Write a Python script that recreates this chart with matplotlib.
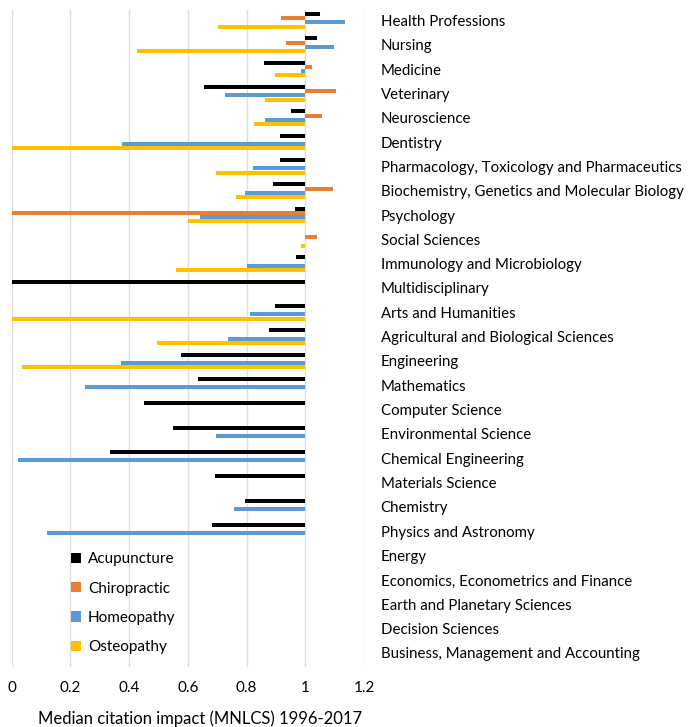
import matplotlib
matplotlib.use("Agg")
import matplotlib.pyplot as plt
import numpy as np

plt.rcParams['font.family'] = ['Lato', 'DejaVu Sans']

categories = [
    "Health Professions", "Nursing", "Medicine", "Veterinary", "Neuroscience",
    "Dentistry", "Pharmacology, Toxicology and Pharmaceutics",
    "Biochemistry, Genetics and Molecular Biology", "Psychology", "Social Sciences",
    "Immunology and Microbiology", "Multidisciplinary", "Arts and Humanities",
    "Agricultural and Biological Sciences", "Engineering", "Mathematics",
    "Computer Science", "Environmental Science", "Chemical Engineering",
    "Materials Science", "Chemistry", "Physics and Astronomy", "Energy",
    "Economics, Econometrics and Finance", "Earth and Planetary Sciences",
    "Decision Sciences", "Business, Management and Accounting",
]
nan = np.nan
acupuncture = [1.05, 1.04, 0.86, 0.655, 0.95, 0.915, 0.915, 0.89, 0.965, nan,
               0.97, 0.0, 0.897, 0.876, 0.577, 0.633, 0.449, 0.55, 0.334, 0.692,
               0.793, 0.683, nan, nan, nan, nan, nan]
chiropractic = [0.918, 0.936, 1.023, 1.103, 1.056, nan, nan, 1.093, 0.0, 1.04,
                nan, nan, nan, nan, nan, nan, nan, nan, nan, nan,
                nan, nan, nan, nan, nan, nan, nan]
homeopathy = [1.134, 1.097, 0.986, 0.727, 0.864, 0.374, 0.822, 0.795, 0.64, nan,
              0.802, nan, 0.812, 0.736, 0.372, 0.248, nan, 0.697, 0.023, nan,
              0.758, 0.12, nan, nan, nan, nan, nan]
osteopathy = [0.702, 0.427, 0.897, 0.864, 0.825, 0.0, 0.695, 0.765, 0.60, 0.984,
              0.561, nan, 0.0, 0.494, 0.035, nan, nan, nan, nan, nan,
              nan, nan, nan, nan, nan, nan, nan]

series = [("Acupuncture", acupuncture, "#000000"),
          ("Chiropractic", chiropractic, "#ED7D31"),
          ("Homeopathy", homeopathy, "#5B9BD5"),
          ("Osteopathy", osteopathy, "#FFC000")]

fig = plt.figure(figsize=(6.9, 7.27), dpi=100)
ax = fig.add_axes([0.017, 0.0825, 0.5105, 0.9035])

n = len(categories)
y = np.arange(n)
step = 0.172
for k, (name, vals, col) in enumerate(series):
    v = np.array(vals, dtype=float)
    off = (k - 1.5) * step
    ax.barh(y + off, v - 1.0, left=1.0, height=0.165, color=col, label=name,
            edgecolor='none', zorder=3)

ax.set_xlim(0, 1.2)
ax.set_ylim(n - 0.42, -0.42)
ax.set_xticks(np.arange(0, 1.21, 0.2))
ax.set_xticklabels(["0", "0.2", "0.4", "0.6", "0.8", "1", "1.2"], fontsize=11)
ax.xaxis.grid(True, color="#DDDDDD", linewidth=1, zorder=0)
ax.set_axisbelow(True)
for s in ax.spines.values():
    s.set_visible(False)
ax.tick_params(axis='x', length=0, pad=10)
ax.yaxis.tick_right()
ax.set_yticks(y)
ax.set_yticklabels(categories, fontsize=10.85)
ax.tick_params(axis='y', length=0, pad=12)
ax.set_xlabel("Median citation impact (MNLCS) 1996-2017", fontsize=12)
ax.xaxis.set_label_coords(0.535, -0.066)

leg = ax.legend(loc='center left', bbox_to_anchor=(0.13, 0.097), frameon=False,
                fontsize=11, handlelength=0.65, handleheight=0.65,
                handletextpad=0.45, labelspacing=1.0)

fig.savefig("out.png", dpi=100)
